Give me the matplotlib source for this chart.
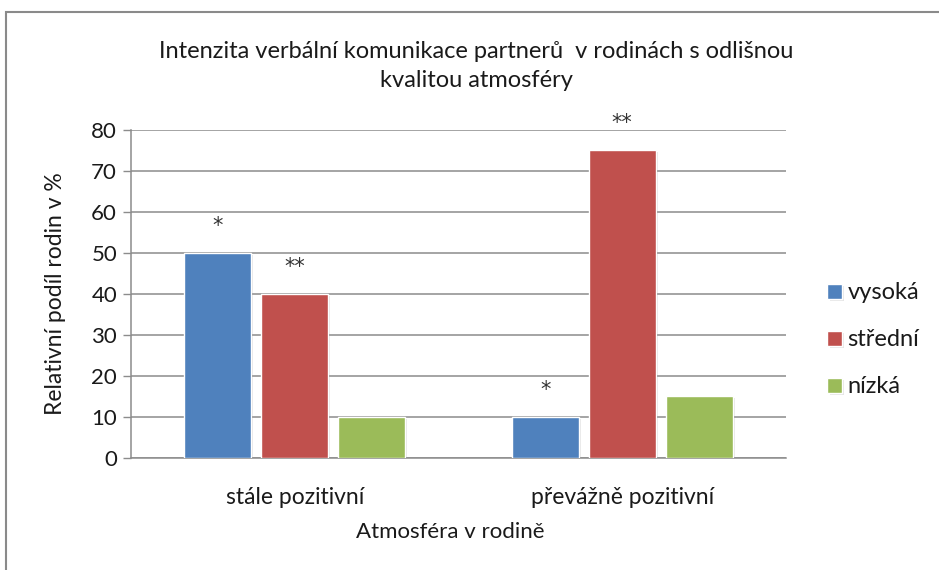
import matplotlib
matplotlib.use("Agg")
import matplotlib.pyplot as plt
import matplotlib.patheffects as pe
from matplotlib.patches import Rectangle
import numpy as np

plt.rcParams['font.family'] = ['Lato', 'DejaVu Sans']

# data
categories = ["stále pozitivní", "převážně pozitivní"]
series_names = ["vysoká", "střední", "nízká"]
values = {
    "vysoká": [50, 10],
    "střední": [40, 75],
    "nízká": [10, 15],
}
# significance marks above bars: (series, category index, label, y)
marks = [
    ("vysoká", 0, "*", 56.5),
    ("střední", 0, "**", 46.5),
    ("vysoká", 1, "*", 16.5),
    ("střední", 1, "**", 81.7),
]
yticks = [0, 10, 20, 30, 40, 50, 60, 70, 80]

colors = {"vysoká": "#4F81BD", "střední": "#C0504D", "nízká": "#9BBB59"}
text_col = "#1a1a1a"
grid_col = "#8c8c8c"

fig = plt.figure(figsize=(9.39, 5.70), dpi=100)
ax = fig.add_axes([131 / 939, 1 - 457.7 / 570, (786 - 131) / 939, (457.7 - 129.5) / 570])

x = np.arange(len(categories))
step = 0.235
width = 0.205
offsets = {name: (i - 1) * step for i, name in enumerate(series_names)}

shadow = [pe.SimplePatchShadow(offset=(1.5, -1.5), shadow_rgbFace="#000000", alpha=0.1), pe.Normal()]
for name in series_names:
    bars = ax.bar(x + offsets[name], values[name], width, color=colors[name],
                  edgecolor="white", linewidth=1.0, label=name, zorder=3)
    for b in bars:
        b.set_path_effects(shadow)

for name, ci, lab, yv in marks:
    ax.text(x[ci] + offsets[name], yv, lab, ha="center", va="center",
            fontsize=15, color="#333333", family="DejaVu Sans", zorder=4)

ax.set_xlim(-0.5, 1.5)
ax.set_ylim(0, 80)
ax.set_yticks(yticks)
ax.set_yticklabels([str(v) for v in yticks], fontsize=16, color=text_col)
ax.set_xticks(x)
ax.set_xticklabels(categories, fontsize=16.5, color=text_col)
ax.tick_params(axis="x", length=0, pad=21)
ax.tick_params(axis="y", length=6, width=1, color=grid_col, pad=4)
ax.yaxis.grid(True, color=grid_col, linewidth=1.1, zorder=0)
ax.set_axisbelow(True)
for s in ["top", "right"]:
    ax.spines[s].set_visible(False)
ax.spines["left"].set_color(grid_col)
ax.spines["bottom"].set_color(grid_col)
ax.spines["left"].set_linewidth(1.1)
ax.spines["bottom"].set_linewidth(1.1)

fig.text(55 / 939, 1 - 294 / 570, "Relativní podíl rodin v %", rotation=90,
         ha="center", va="center", fontsize=16.5, color=text_col)
fig.text(450 / 939, 1 - 532 / 570, "Atmosféra v rodině", ha="center", va="center",
         fontsize=16, color=text_col)
fig.text(476 / 939, 1 - 66 / 570,
         "Intenzita verbální komunikace partnerů  v rodinách s odlišnou\nkvalitou atmosféry",
         ha="center", va="center", fontsize=17, color=text_col, linespacing=1.5)

leg = fig.legend(loc="upper left", bbox_to_anchor=(818 / 939, 1 - 273 / 570),
                 frameon=False, fontsize=17, handlelength=0.6, handleheight=0.6,
                 handletextpad=0.25, labelspacing=1.1, borderaxespad=0)
for t in leg.get_texts():
    t.set_color(text_col)

# outer chart frame (cropped at right and bottom)
fig.patches.append(Rectangle((5.5 / 939, -0.1), 1.2, 1.1 - 12.5 / 570,
                             transform=fig.transFigure, fill=False,
                             edgecolor="#8a8a8a", linewidth=1.5))

fig.savefig("out.png", dpi=100)
